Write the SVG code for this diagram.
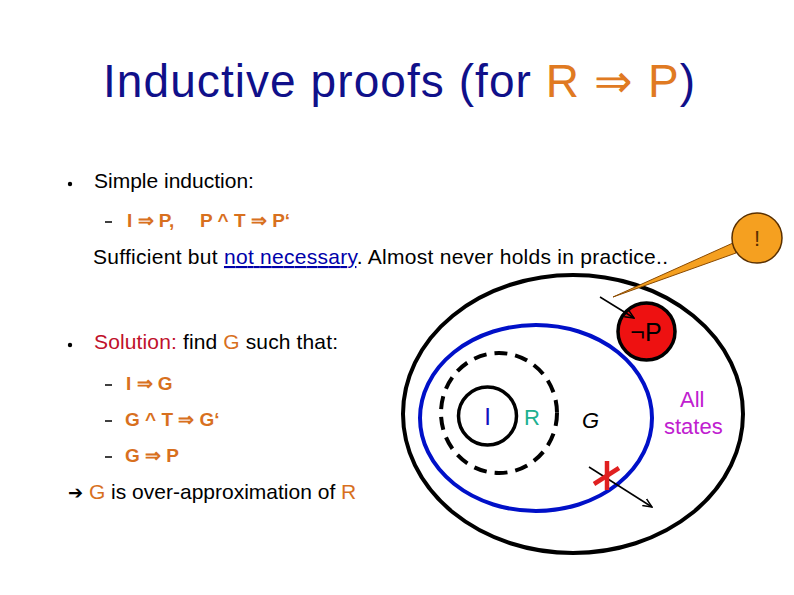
<svg xmlns="http://www.w3.org/2000/svg" width="794" height="595" viewBox="0 0 794 595">
<defs>
<style>
text{font-family:"Liberation Sans",Arial,sans-serif;}
.title{font-size:46px;fill:#10108a;}
.body{font-size:21px;fill:#000;}
.f{font-size:19px;fill:#d8701e;font-weight:bold;}
.or{fill:#d8701e;}
.dash{stroke:#000;stroke-width:1.5;}
.dot{fill:#000;}
</style>
<marker id="ah" markerWidth="10" markerHeight="10" refX="9" refY="5" orient="auto" markerUnits="userSpaceOnUse">
<path d="M0,1 L9,5 L0,9" fill="none" stroke="#000" stroke-width="1.5"/>
</marker>
</defs>
<rect width="794" height="595" fill="#fff"/>

<g id="title">
<text class="title" x="103" y="97" textLength="592">Inductive proofs (for <tspan fill="#e07a22">R ⇒ P</tspan>)</text>
</g>

<g id="text-left">
<circle class="dot" cx="70" cy="184" r="2.2"/>
<text class="body" x="94" y="188">Simple induction:</text>
<line class="dash" x1="105" y1="222" x2="112" y2="222"/>
<text class="f" x="127" y="227">I ⇒ P,</text>
<text class="f" x="200" y="227">P ^ T ⇒ P‘</text>
<text class="body" x="93" y="264" textLength="575">Sufficient but <tspan fill="#0000aa" text-decoration="underline">not necessary</tspan>. Almost never holds in practice..</text>

<circle class="dot" cx="70" cy="345" r="2.2"/>
<text class="body" x="94" y="349" textLength="244"><tspan fill="#c0102a">Solution:</tspan> find <tspan class="or">G</tspan> such that:</text>
<line class="dash" x1="105" y1="385" x2="112" y2="385"/>
<text class="f" x="126" y="390">I ⇒ G</text>
<line class="dash" x1="105" y1="421" x2="112" y2="421"/>
<text class="f" x="125" y="426">G ^ T ⇒ G‘</text>
<line class="dash" x1="105" y1="457" x2="112" y2="457"/>
<text class="f" x="125" y="462">G ⇒ P</text>
<text class="body" x="68" y="499"><tspan font-family="DejaVu Sans, sans-serif" font-size="18">➔</tspan> <tspan class="or">G</tspan> is over-approximation of <tspan class="or">R</tspan></text>
</g>

<g id="all-states">
<ellipse cx="573" cy="414" rx="170" ry="139" fill="none" stroke="#000" stroke-width="4"/>
<text x="680" y="407" font-size="22" fill="#c020d0">All</text>
<text x="664" y="434" font-size="22" fill="#c020d0">states</text>
</g>

<g id="G">
<ellipse cx="536" cy="418" rx="116" ry="93" fill="none" stroke="#0010c8" stroke-width="4"/>
<text x="582" y="428" font-size="22" font-style="italic" fill="#000">G</text>
</g>

<g id="R">
<ellipse cx="499" cy="413" rx="58" ry="60" fill="none" stroke="#000" stroke-width="4" stroke-dasharray="13 8"/>
<text x="524" y="425" font-size="22" fill="#20b090">R</text>
</g>

<g id="I">
<circle cx="487.5" cy="416" r="29" fill="none" stroke="#000" stroke-width="3.5"/>
<text x="487.5" y="425" font-size="24" fill="#1010c0" text-anchor="middle">I</text>
</g>

<g id="notP">
<circle cx="646.5" cy="331.5" r="28.5" fill="#ee1111" stroke="#000" stroke-width="3.5"/>
<text x="646" y="341" font-size="25" fill="#000" text-anchor="middle">¬P</text>
</g>

<g id="callout">
<path d="M613,297 L733,243 L736,253 Z" fill="#f5a020" stroke="#8a4a00" stroke-width="1"/>
<circle cx="757" cy="238" r="25" fill="#f5a020" stroke="#5a3000" stroke-width="1.5"/>
<text x="757" y="246" font-size="22" fill="#5a3000" text-anchor="middle">!</text>
</g>

<g id="connectors">
<line x1="600" y1="297" x2="634" y2="318" stroke="#000" stroke-width="1.5" marker-end="url(#ah)"/>
<line x1="589" y1="467" x2="652" y2="507" stroke="#000" stroke-width="1.5" marker-end="url(#ah)"/>
<line x1="607" y1="461" x2="607" y2="490" stroke="#e02020" stroke-width="4.5"/>
<line x1="594" y1="484" x2="619" y2="468" stroke="#e02020" stroke-width="4.5"/>
</g>
</svg>
